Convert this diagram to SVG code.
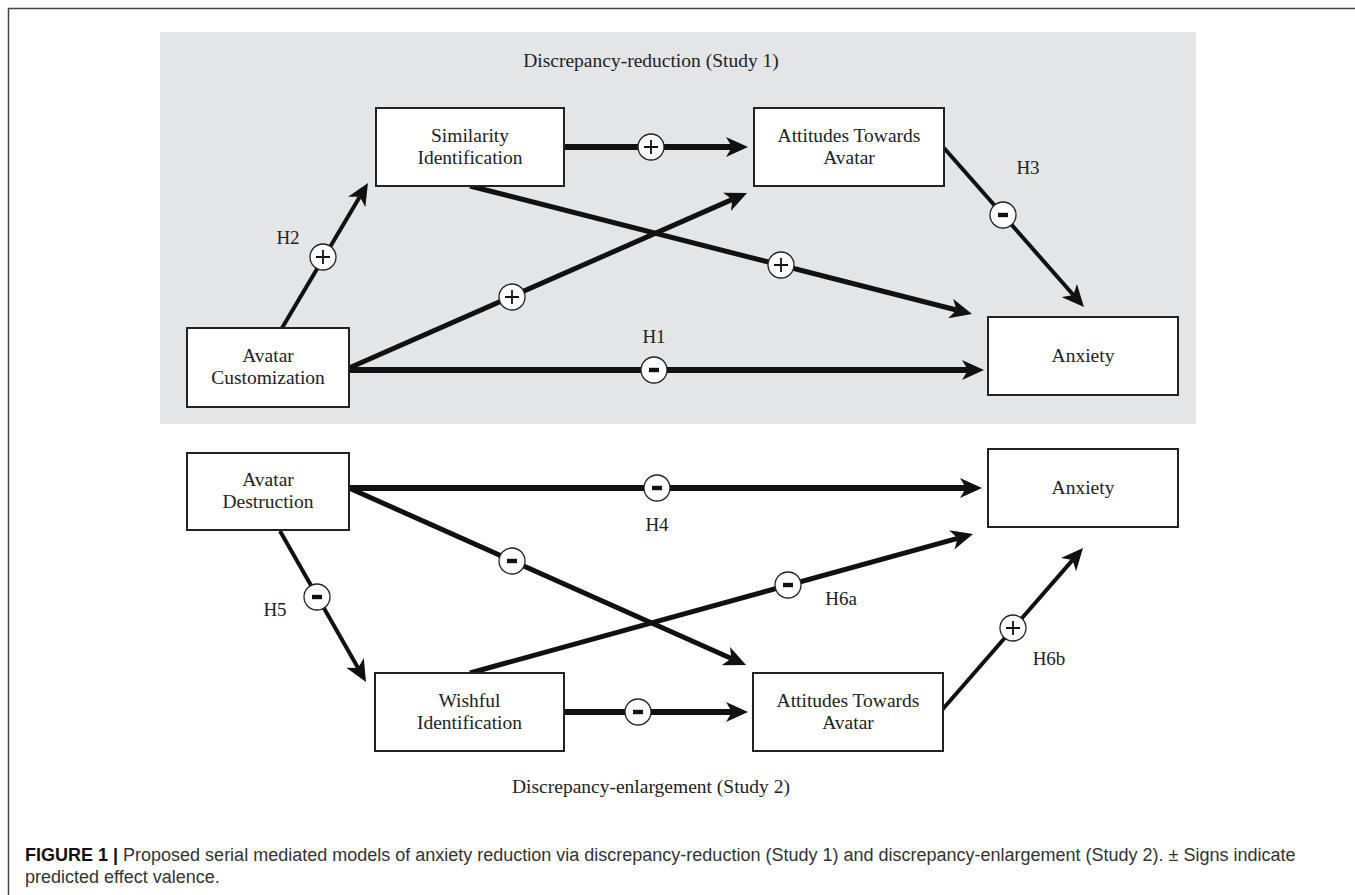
<svg xmlns="http://www.w3.org/2000/svg" width="1355" height="895" viewBox="0 0 1355 895">
<style>
.box{fill:#fff;stroke:#222;stroke-width:2}
.t{font-family:"Liberation Serif","Times New Roman",serif;font-size:19.5px;fill:#222;text-anchor:middle}
.h{font-family:"Liberation Serif","Times New Roman",serif;font-size:19px;fill:#222;text-anchor:middle}
.thick{stroke:#111;stroke-width:6;fill:none;marker-end:url(#ah)}
.med{stroke:#111;stroke-width:5;fill:none;marker-end:url(#ah)}
.thin{stroke:#111;stroke-width:4;fill:none;marker-end:url(#ah)}
.cap{font-family:"Liberation Sans",Arial,sans-serif;font-size:18px;fill:#333}
</style>
<defs>
<marker id="ah" viewBox="0 0 22 20" refX="6" refY="10" markerWidth="22" markerHeight="20" markerUnits="userSpaceOnUse" orient="auto">
<path d="M22,10 L0,0 L6,10 L0,20 Z" fill="#111"/>
</marker>
<g id="plus"><circle r="13" fill="#fff" stroke="#222" stroke-width="1.3"/><path d="M-7,0H7M0,-7V7" stroke="#111" stroke-width="1.8"/></g>
<g id="minus"><circle r="13" fill="#fff" stroke="#222" stroke-width="1.3"/><rect x="-5" y="-2.2" width="10" height="4.4" fill="#111"/></g>
</defs>
<rect width="1355" height="895" fill="#fff"/>
<path d="M1355,8.5 H8.5 V895" fill="none" stroke="#444" stroke-width="1.5"/>
<rect x="160" y="32" width="1036" height="392" fill="#e4e5e7"/>
<text class="t" x="651" y="67">Discrepancy-reduction (Study 1)</text>
<text class="t" x="651" y="793">Discrepancy-enlargement (Study 2)</text>

<g id="connectors">
<line class="thick" x1="564" y1="147" x2="732" y2="147"/>
<line class="thin" x1="282" y1="328" x2="359.8" y2="196.8"/>
<line class="med" x1="349" y1="368" x2="732.4" y2="199.4"/>
<line class="med" x1="470" y1="186" x2="956.5" y2="310"/>
<line class="thin" x1="944" y1="148" x2="1073.4" y2="295"/>
<line class="thick" x1="349" y1="370" x2="968" y2="370"/>
<line class="thick" x1="349" y1="488" x2="966" y2="488"/>
<line class="med" x1="349" y1="488" x2="731.4" y2="658.5"/>
<line class="thin" x1="280" y1="531" x2="358.1" y2="668.1"/>
<line class="med" x1="470" y1="673" x2="957.6" y2="538.3"/>
<line class="thick" x1="564" y1="712" x2="732" y2="712"/>
<line class="thin" x1="942" y1="710" x2="1072.5" y2="560.1"/>
<use href="#plus" x="651" y="147"/>
<use href="#plus" x="323" y="257"/>
<use href="#plus" x="512" y="297"/>
<use href="#plus" x="781" y="265"/>
<use href="#minus" x="1003" y="215"/>
<use href="#minus" x="654" y="370"/>
<use href="#minus" x="657" y="488"/>
<use href="#minus" x="512" y="561"/>
<use href="#minus" x="317" y="597"/>
<use href="#minus" x="788" y="585"/>
<use href="#minus" x="638" y="712"/>
<use href="#plus" x="1013" y="628"/>
<text class="h" x="288" y="244">H2</text>
<text class="h" x="654" y="343">H1</text>
<text class="h" x="1028" y="174">H3</text>
<text class="h" x="657" y="531">H4</text>
<text class="h" x="275" y="616">H5</text>
<text class="h" x="841" y="605">H6a</text>
<text class="h" x="1049" y="665">H6b</text>
</g>

<g id="similarity-identification"><rect class="box" x="376" y="108" width="188" height="78"/><text class="t" x="470" y="141.5">Similarity</text><text class="t" x="470" y="163.5">Identification</text></g>
<g id="attitudes-top"><rect class="box" x="754" y="108" width="190" height="78"/><text class="t" x="849" y="141.5">Attitudes Towards</text><text class="t" x="849" y="163.5">Avatar</text></g>
<g id="avatar-customization"><rect class="box" x="187" y="328" width="162" height="79"/><text class="t" x="268" y="362">Avatar</text><text class="t" x="268" y="384">Customization</text></g>
<g id="anxiety-top"><rect class="box" x="988" y="317" width="190" height="78"/><text class="t" x="1083" y="362">Anxiety</text></g>
<g id="avatar-destruction"><rect class="box" x="187" y="453" width="162" height="77"/><text class="t" x="268" y="486">Avatar</text><text class="t" x="268" y="508">Destruction</text></g>
<g id="anxiety-bottom"><rect class="box" x="988" y="449" width="190" height="78"/><text class="t" x="1083" y="494">Anxiety</text></g>
<g id="wishful-identification"><rect class="box" x="375" y="673" width="189" height="78"/><text class="t" x="469.5" y="706.5">Wishful</text><text class="t" x="469.5" y="728.5">Identification</text></g>
<g id="attitudes-bottom"><rect class="box" x="753" y="673" width="190" height="78"/><text class="t" x="848" y="706.5">Attitudes Towards</text><text class="t" x="848" y="728.5">Avatar</text></g>

<text class="cap" x="25" y="861"><tspan font-weight="bold" fill="#111">FIGURE 1 |</tspan> Proposed serial mediated models of anxiety reduction via discrepancy-reduction (Study 1) and discrepancy-enlargement (Study 2). ± Signs indicate</text>
<text class="cap" x="25" y="883">predicted effect valence.</text>
</svg>
